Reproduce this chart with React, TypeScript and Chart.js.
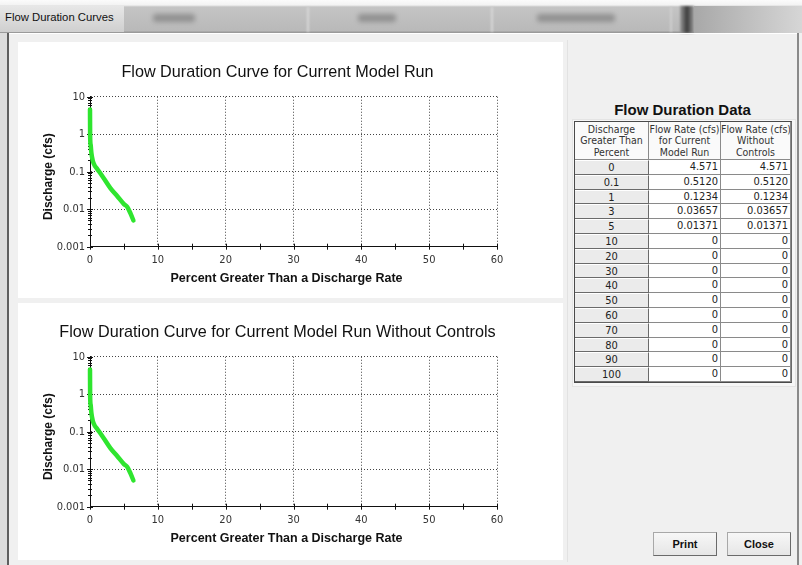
import React, { useEffect, useRef } from 'react';
import { Chart, registerables } from 'chart.js';

Chart.register(...registerables);

// ---- Curve data (percent exceedance vs discharge, cfs) ----
const curvePercent = [0, 0.02, 0.1, 0.2, 0.4, 0.7, 1, 1.5, 2, 3, 4, 5, 5.5, 6, 6.4];
const dischargeCurrent = [4.571, 0.9, 0.512, 0.32, 0.2, 0.145, 0.1234, 0.092, 0.068, 0.03657, 0.0225, 0.01371, 0.0115, 0.0075, 0.005];
const dischargeWithout = [4.571, 0.9, 0.512, 0.32, 0.2, 0.145, 0.1234, 0.092, 0.068, 0.03657, 0.0225, 0.01371, 0.0115, 0.0075, 0.005];

// ---- Axis ticks ----
const xTickValues = [0, 10, 20, 30, 40, 50, 60];
const xMinorTickValues = [5, 15, 25, 35, 45, 55];
const yTickValues = [0.001, 0.01, 0.1, 1, 10];
const yTickLabels = ['0.001', '0.01', '0.1', '1', '10'];
const yMinorMultipliers = [2, 3, 4, 5, 6, 7, 8, 9];

// ---- Table data ----
const tablePercent = ['0', '0.1', '1', '3', '5', '10', '20', '30', '40', '50', '60', '70', '80', '90', '100'];
const tableFlowCurrent = ['4.571', '0.5120', '0.1234', '0.03657', '0.01371', '0', '0', '0', '0', '0', '0', '0', '0', '0', '0'];
const tableFlowWithout = ['4.571', '0.5120', '0.1234', '0.03657', '0.01371', '0', '0', '0', '0', '0', '0', '0', '0', '0', '0'];

const NARROW = "'Liberation Sans Narrow', 'Arial Narrow', 'DejaVu Sans Condensed', sans-serif";
const SANS = "'Liberation Sans', Arial, sans-serif";

const tickMarks = {
  id: 'tickMarks',
  beforeDatasetsDraw(chart: any) {
    const { ctx, chartArea: a, scales } = chart;
    const xs = scales.x;
    const ys = scales.y;
    ctx.save();
    ctx.strokeStyle = '#111';
    ctx.lineWidth = 1;
    ctx.beginPath();
    [...xTickValues, ...xMinorTickValues].forEach((v) => {
      const px = Math.round(xs.getPixelForValue(v)) + 0.5;
      ctx.moveTo(px, a.bottom - 3);
      ctx.lineTo(px, a.bottom + 3);
    });
    yTickValues.forEach((d, i) => {
      const py = Math.round(ys.getPixelForValue(d)) + 0.5;
      ctx.moveTo(a.left - 3, py);
      ctx.lineTo(a.left + 3, py);
      if (i < yTickValues.length - 1) {
        yMinorMultipliers.forEach((k) => {
          const my = Math.round(ys.getPixelForValue(d * k)) + 0.5;
          ctx.moveTo(a.left - 2, my);
          ctx.lineTo(a.left + 2, my);
        });
      }
    });
    ctx.stroke();
    ctx.restore();
  },
};

function FlowChart({ title, discharge, top }: { title: string; discharge: number[]; top: number }) {
  const ref = useRef<HTMLCanvasElement>(null);
  useEffect(() => {
    const chart = new Chart(ref.current as HTMLCanvasElement, {
      type: 'line',
      data: {
        datasets: [
          {
            data: curvePercent.map((p, i) => ({ x: p, y: discharge[i] })),
            borderColor: '#2fe52f',
            borderWidth: 4.5,
            pointRadius: 0,
            cubicInterpolationMode: 'monotone',
            borderCapStyle: 'round',
            borderJoinStyle: 'round',
            clip: false,
          } as any,
        ],
      },
      options: {
        responsive: false,
        animation: false,
        devicePixelRatio: 1,
        layout: { padding: { left: 0, right: 27, top: 0, bottom: 0 } },
        plugins: {
          legend: { display: false },
          tooltip: { enabled: false },
          title: {
            display: true,
            text: title,
            color: '#111',
            font: { family: SANS, size: 16.2, weight: 'normal' },
            padding: { top: 21, bottom: 14.3 },
          },
        },
        scales: {
          x: {
            type: 'linear',
            min: 0,
            max: 60,
            afterBuildTicks: (s: any) => {
              s.ticks = xTickValues.map((v) => ({ value: v }));
            },
            afterFit: (s: any) => {
              s.height = 51.3;
            },
            grid: { color: '#444', lineWidth: 1, drawTicks: false },
            border: { display: true, color: '#111', width: 1, dash: [1, 2] },
            ticks: {
              autoSkip: false,
              maxRotation: 0,
              padding: 7,
              color: '#333',
              font: { family: NARROW, size: 11 },
              callback: (v: any) => String(v),
            },
            title: {
              display: true,
              text: 'Percent Greater Than a Discharge Rate    ',
              color: '#111',
              font: { family: SANS, size: 12.5, weight: 'bold' },
              padding: { top: 0, bottom: 11.5 },
            },
          },
          y: {
            type: 'logarithmic',
            min: 0.001,
            max: 10,
            afterBuildTicks: (s: any) => {
              s.ticks = yTickValues.map((v) => ({ value: v, major: true }));
            },
            afterFit: (s: any) => {
              s.width = 71;
            },
            grid: { color: '#444', lineWidth: 1, drawTicks: false },
            border: { display: true, color: '#111', width: 1, dash: [1, 2] },
            ticks: {
              autoSkip: false,
              padding: 5,
              color: '#333',
              font: { family: NARROW, size: 11 },
              callback: (v: any) => {
                const i = yTickValues.indexOf(v);
                return i >= 0 ? yTickLabels[i] : '';
              },
            },
            title: {
              display: true,
              text: 'Discharge (cfs)   ',
              color: '#111',
              font: { family: SANS, size: 12, weight: 'bold' },
              padding: { top: 22.8, bottom: 0 },
            },
          },
          yr: {
            type: 'linear',
            position: 'right',
            display: true,
            grid: { display: false },
            border: { display: false },
            ticks: { display: false },
            afterFit: (s: any) => {
              s.width = 39;
            },
          },
        },
      } as any,
      plugins: [tickMarks],
    });
    return () => chart.destroy();
  }, []);
  return (
    <canvas
      ref={ref}
      width={544}
      height={256}
      style={{ position: 'absolute', left: 19, top, width: 544, height: 256 }}
    />
  );
}

function FlowTable() {
  const cellBase: React.CSSProperties = {
    boxSizing: 'border-box',
    borderRight: '1px solid #8a8a8a',
    borderBottom: '1px solid #8a8a8a',
    fontFamily: NARROW,
    fontSize: 11,
    color: '#222',
    lineHeight: '13px',
    whiteSpace: 'nowrap',
    overflow: 'hidden',
  };
  const headerCell: React.CSSProperties = {
    ...cellBase,
    background: '#fafafa',
    textAlign: 'center',
    fontSize: 10.5,
    lineHeight: '11.3px',
    color: '#333',
    paddingTop: 2,
  };
  const headers = [
    ['Discharge', 'Greater Than', 'Percent'],
    ['Flow Rate (cfs)', 'for Current', 'Model Run'],
    ['Flow Rate (cfs)', 'Without', 'Controls'],
  ];
  const cells: React.ReactNode[] = [];
  headers.forEach((h, i) =>
    cells.push(
      <div key={'h' + i} style={headerCell}>
        {h.map((line, j) => (
          <div key={j}>{line}</div>
        ))}
      </div>
    )
  );
  tablePercent.forEach((p, r) => {
    cells.push(
      <div
        key={'p' + r}
        style={{ ...cellBase, background: '#ebebeb', textAlign: 'center', borderTop: '1px solid #fff', borderRight: '1px solid #6a6a6a', borderBottom: '1px solid #6a6a6a' }}
      >
        {p}
      </div>
    );
    cells.push(
      <div key={'c' + r} style={{ ...cellBase, background: '#fff', textAlign: 'right', paddingRight: 2 }}>
        {tableFlowCurrent[r]}
      </div>
    );
    cells.push(
      <div key={'w' + r} style={{ ...cellBase, background: '#fff', textAlign: 'right', paddingRight: 2 }}>
        {tableFlowWithout[r]}
      </div>
    );
  });
  return (
    <div
      style={{
        position: 'absolute',
        left: 574,
        top: 121,
        display: 'grid',
        gridTemplateColumns: '74px 72px 70px',
        gridTemplateRows: '38px repeat(15, 14.8px)',
        border: '1px solid #4a4a4a',
        borderRight: '1px solid #6a6a6a',
        background: '#fff',
      }}
    >
      {cells}
    </div>
  );
}

const buttonStyle: React.CSSProperties = {
  position: 'absolute',
  top: 532,
  width: 64,
  height: 24,
  boxSizing: 'border-box',
  border: '1px solid #a8a8a8',
  borderRight: '1px solid #6a6a6a',
  borderBottom: '1px solid #6a6a6a',
  background: 'linear-gradient(#f7f7f7, #e6e6e6)',
  fontFamily: SANS,
  fontWeight: 'bold',
  fontSize: 11,
  color: '#111',
  display: 'flex',
  alignItems: 'center',
  justifyContent: 'center',
};

const blob = (left: number, width: number): React.CSSProperties => ({
  position: 'absolute',
  left,
  top: 14,
  width,
  height: 8,
  background: '#7d7d7d',
  borderRadius: 3,
  filter: 'blur(2.5px)',
  opacity: 0.7,
});

export default function App() {
  return (
    <div
      style={{
        position: 'fixed',
        left: 0,
        top: 0,
        width: 802,
        height: 565,
        overflow: 'hidden',
        background: '#f0f0f0',
        fontFamily: SANS,
      }}
    >
      {/* Title bar */}
      <div style={{ position: 'absolute', left: 0, top: 0, width: 802, height: 33, background: 'linear-gradient(#fbfbfb 0px, #f3f3f3 5px, #c4c4c4 7px, #b9b9b9 31px, #9a9a9a 32px)' }} />
      <div style={{ position: 'absolute', left: 0, top: 6, width: 124, height: 26, background: 'linear-gradient(#e7e7e7, #cfcfcf)' }} />
      <div style={{ position: 'absolute', left: 307, top: 7, width: 2, height: 25, background: '#d8d8d8', filter: 'blur(1px)' }} />
      <div style={{ position: 'absolute', left: 491, top: 7, width: 2, height: 25, background: '#d8d8d8', filter: 'blur(1px)' }} />
      <div style={{ position: 'absolute', left: 670, top: 7, width: 2, height: 25, background: '#d0d0d0', filter: 'blur(1px)' }} />
      <div style={blob(153, 42)} />
      <div style={blob(358, 38)} />
      <div style={blob(537, 78)} />
      <div style={{ position: 'absolute', left: 680, top: 6, width: 14, height: 27, background: 'linear-gradient(90deg, #9a9a9a, #3c3c3c, #9a9a9a)', filter: 'blur(1px)' }} />
      <div style={{ position: 'absolute', left: 694, top: 6, width: 108, height: 27, background: 'linear-gradient(90deg, #a8a8a8, #d6d6d6)' }} />
      <div style={{ position: 'absolute', left: 5, top: 11, fontFamily: SANS, fontSize: 11.3, color: '#111', whiteSpace: 'nowrap' }}>
        Flow Duration Curves
      </div>

      {/* Dialog frame */}
      <div style={{ position: 'absolute', left: 0, top: 33, width: 7, height: 532, background: '#dcdcdc' }} />
      <div style={{ position: 'absolute', left: 7, top: 33, width: 2, height: 532, background: '#5e5e5e' }} />
      <div style={{ position: 'absolute', left: 797, top: 33, width: 2, height: 532, background: '#8a8a8a' }} />
      <div style={{ position: 'absolute', left: 9, top: 33, width: 788, height: 1, background: '#ffffff' }} />
      <div style={{ position: 'absolute', left: 567, top: 40, width: 1, height: 522, background: '#e2e2e2' }} />

      {/* Chart panels */}
      <div style={{ position: 'absolute', left: 18, top: 42, width: 545, height: 256, background: '#fff' }} />
      <div style={{ position: 'absolute', left: 18, top: 303, width: 545, height: 257, background: '#fff' }} />
      <FlowChart title="Flow Duration Curve for Current Model Run" discharge={dischargeCurrent} top={42} />
      <FlowChart title="Flow Duration Curve for Current Model Run Without Controls" discharge={dischargeWithout} top={302} />

      {/* Table */}
      <div style={{ position: 'absolute', left: 572, top: 119, width: 222, height: 266, background: '#f6f6f6', border: '1px solid #e4e4e4' }} />
      <div style={{ position: 'absolute', left: 575, top: 101, width: 215, textAlign: 'center', fontFamily: SANS, fontWeight: 'bold', fontSize: 15, lineHeight: '18px', color: '#111' }}>
        Flow Duration Data
      </div>
      <FlowTable />

      {/* Buttons */}
      <div style={{ ...buttonStyle, left: 653 }}>Print</div>
      <div style={{ ...buttonStyle, left: 727 }}>Close</div>
    </div>
  );
}
